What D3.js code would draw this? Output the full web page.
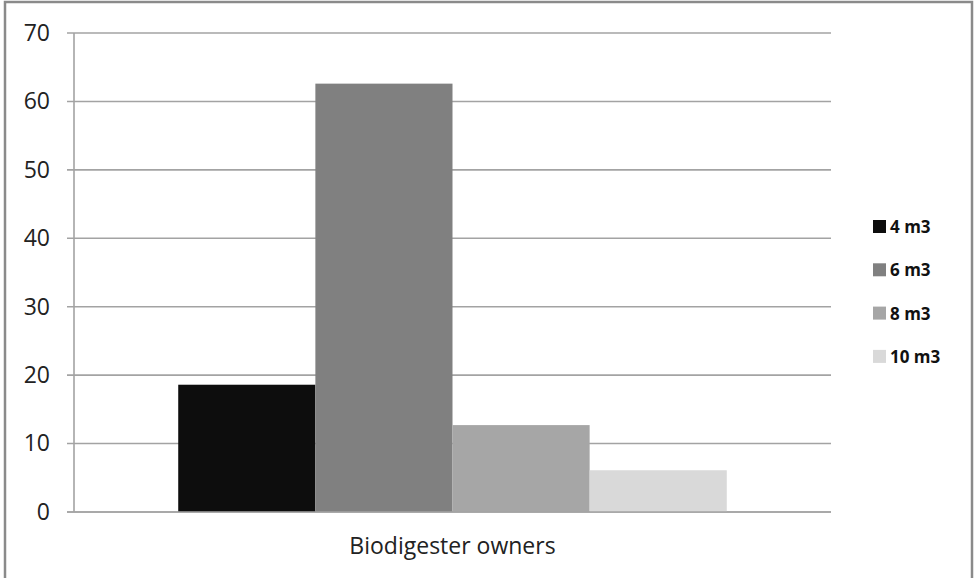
<!DOCTYPE html>
<html>
<head>
<meta charset="utf-8">
<script src="https://cdn.jsdelivr.net/npm/d3@7"></script>
<style>
  html, body { margin: 0; padding: 0; background: #fff; }
  svg { display: block; }
</style>
</head>
<body>
<svg id="chart" width="974" height="578"></svg>
<script>
// Share of biodigester owners by plant size (%)
const categories = ["Biodigester owners"];
const seriesNames = ["4 m3", "6 m3", "8 m3", "10 m3"];
const seriesValues = [18.6, 62.6, 12.7, 6.1];
const seriesColors = ["#0d0d0d", "#808080", "#a6a6a6", "#d9d9d9"];
const yTicks = [0, 10, 20, 30, 40, 50, 60, 70];

const svg = d3.select("#chart");
const W = 974, H = 578;

// Outer frame
svg.append("rect")
  .attr("x", 5).attr("y", 2).attr("width", W - 7).attr("height", H + 10)
  .attr("fill", "#fff").attr("stroke", "#8a8a8a").attr("stroke-width", 2.5);

const plot = { left: 74, right: 831, top: 33, bottom: 512 };

const y = d3.scaleLinear().domain([0, 70]).range([plot.bottom, plot.top]);
const x0 = d3.scaleBand().domain(categories)
  .range([plot.left, plot.right]).paddingInner(0).paddingOuter(0.19);
const x1 = d3.scaleBand().domain(seriesNames).range([0, x0.bandwidth()]).padding(0);

// Gridlines
svg.append("g").selectAll("line").data(yTicks).join("line")
  .attr("x1", plot.left - 7).attr("x2", plot.right)
  .attr("y1", d => y(d)).attr("y2", d => y(d))
  .attr("stroke", "#a3a3a3").attr("stroke-width", 1.6);

// Y axis line
svg.append("line")
  .attr("x1", plot.left).attr("x2", plot.left)
  .attr("y1", plot.top).attr("y2", plot.bottom)
  .attr("stroke", "#a3a3a3").attr("stroke-width", 1.6);

// Y axis labels
const yAxis = d3.axisLeft(y).tickValues(yTicks).tickSize(0).tickPadding(24);
const gy = svg.append("g").attr("transform", `translate(${plot.left},0)`).call(yAxis);
gy.select(".domain").remove();
gy.selectAll("text")
  .attr("font-family", "'Open Sans', sans-serif")
  .attr("font-size", 23).attr("fill", "#222");

// Bars
const data = seriesNames.map((s, i) => ({ series: s, value: seriesValues[i], color: seriesColors[i] }));
const g = svg.append("g").attr("transform", `translate(${x0(categories[0])},0)`);
g.selectAll("rect").data(data).join("rect")
  .attr("x", d => x1(d.series))
  .attr("y", d => y(d.value))
  .attr("width", x1.bandwidth())
  .attr("height", d => y(0) - y(d.value))
  .attr("fill", d => d.color);

// Baseline drawn over the bars
svg.append("line")
  .attr("x1", plot.left - 7).attr("x2", plot.right)
  .attr("y1", y(0)).attr("y2", y(0))
  .attr("stroke", "#a3a3a3").attr("stroke-width", 1.6);

// Category label
svg.append("text")
  .attr("x", x0(categories[0]) + x0.bandwidth() / 2)
  .attr("y", 554)
  .attr("text-anchor", "middle")
  .attr("font-family", "'Open Sans', sans-serif")
  .attr("font-size", 23).attr("fill", "#222")
  .text(categories[0]);

// Legend
const legend = svg.append("g").attr("transform", "translate(873,220)");
const rows = legend.selectAll("g").data(data).join("g")
  .attr("transform", (d, i) => `translate(0,${i * 43.3})`);
rows.append("rect").attr("width", 13).attr("height", 13).attr("fill", d => d.color);
rows.append("text")
  .attr("x", 17).attr("y", 13)
  .attr("font-family", "'Open Sans', sans-serif")
  .attr("font-weight", "bold")
  .attr("font-size", 17).attr("fill", "#111")
  .text(d => d.series);
</script>
</body>
</html>
